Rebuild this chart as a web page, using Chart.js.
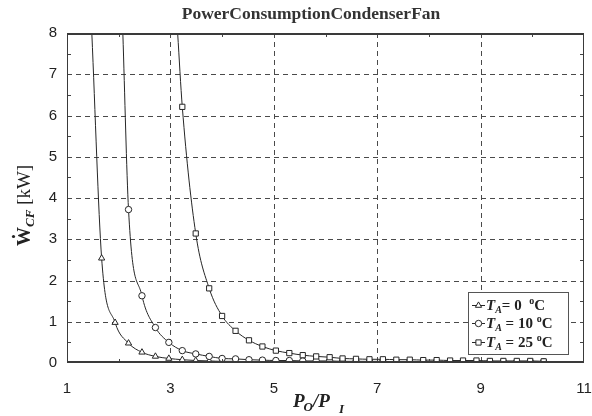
<!DOCTYPE html>
<html>
<head>
<meta charset="utf-8">
<script src="https://cdn.jsdelivr.net/npm/chart.js@4/dist/chart.umd.min.js"></script>
<style>
html,body{margin:0;padding:0;background:#fff;}
#wrap{position:relative;width:592px;height:416px;}
</style>
</head>
<body>
<div id="wrap"><canvas id="c" width="592" height="416"></canvas></div>
<script>
// ---- data ----
const chartTitle = "PowerConsumptionCondenserFan";
const xTickLabels = ["1","3","5","7","9","11"];
const yTickLabels = ["0","1","2","3","4","5","6","7","8"];

// P_O/P_I values of the markers (common grid)
const pressureRatio = [1.67,1.93,2.19,2.45,2.71,2.97,3.23,3.49,3.75,4.00,4.26,4.52,4.78,5.04,5.30,5.56,5.82,6.08,6.33,6.59,6.85,7.11,7.37,7.63,7.89,8.15,8.41,8.66,8.92,9.18,9.44,9.70,9.96,10.22];

// T_A = 0 °C  (markers start at index 0)
const power0 = [2.54,0.98,0.48,0.26,0.16,0.11,0.08,0.06,0.05,0.04,0.04,0.03,0.03,0.03,0.03,0.02,0.02,0.02,0.02,0.02,0.02,0.02,0.02,0.02,0.02,0.02,0.02,0.02,0.02,0.02,0.02,0.02,0.02,0.02];
// T_A = 10 °C (markers start at index 2)
const power10 = [3.72,1.63,0.86,0.50,0.30,0.22,0.16,0.11,0.10,0.08,0.07,0.06,0.06,0.05,0.05,0.05,0.04,0.04,0.04,0.04,0.03,0.03,0.03,0.03,0.03,0.03,0.03,0.03,0.03,0.03,0.03,0.03];
// T_A = 25 °C (markers start at index 6)
const power25 = [6.21,3.14,1.81,1.14,0.78,0.55,0.40,0.30,0.24,0.19,0.16,0.14,0.11,0.10,0.09,0.09,0.08,0.08,0.07,0.07,0.06,0.06,0.06,0.05,0.05,0.05,0.05,0.04];
const startIndex = [0, 2, 6];
// where each curve leaves the top of the plot (x at y = 8)
const topExitX = [1.48, 2.08, 3.14];
const topExitY = [8, 8, 8];

const seriesNames = ["0", "10", "25"];
const seriesMarkers = ["triangle", "circle", "rect"];

// ---- build datasets ----
function buildData(values, s) {
  const pts = [{x: topExitX[s], y: topExitY[s]}];
  values.forEach((v, i) => pts.push({x: pressureRatio[startIndex[s] + i], y: v}));
  return pts;
}
const allValues = [power0, power10, power25];
const radii = [3.6, 3.2, 3.7];
const datasets = allValues.map((vals, s) => {
  const d = buildData(vals, s);
  return {
    label: "T_A = " + seriesNames[s] + " °C",
    data: d,
    borderColor: "#262626",
    borderWidth: 1,
    backgroundColor: "#ffffff",
    pointStyle: seriesMarkers[s],
    pointRadius: d.map((p, i) => i === 0 ? 0 : radii[s]),
    pointBorderColor: "#262626",
    pointBorderWidth: 1,
    pointBackgroundColor: "#ffffff",
    cubicInterpolationMode: "monotone",
    fill: false,
    order: 3 - s
  };
});

// ---- custom drawing plugin ----
const deco = {
  id: "deco",
  beforeDatasetsDraw(chart) {
    const {ctx, chartArea: a, scales: {x, y}} = chart;
    ctx.save();
    ctx.strokeStyle = "#4a4a4a";
    ctx.lineWidth = 1;
    ctx.setLineDash([5, 4]);
    [3,5,7,9].forEach(v => {
      const px = Math.round(x.getPixelForValue(v)) + 0.5;
      ctx.beginPath(); ctx.moveTo(px, a.top); ctx.lineTo(px, a.bottom); ctx.stroke();
    });
    [1,2,3,4,5,6,7].forEach(v => {
      const py = Math.round(y.getPixelForValue(v)) + 0.5;
      ctx.beginPath(); ctx.moveTo(a.left, py); ctx.lineTo(a.right, py); ctx.stroke();
    });
    ctx.restore();
  },
  afterDatasetsDraw(chart) {
    const {ctx, chartArea: a, scales: {x, y}} = chart;
    ctx.save();
    // minor ticks
    ctx.strokeStyle = "#444";
    ctx.lineWidth = 1;
    ctx.setLineDash([]);
    [2,4,6,8,10].forEach(v => {
      const px = Math.round(x.getPixelForValue(v)) + 0.5;
      ctx.beginPath(); ctx.moveTo(px, a.top); ctx.lineTo(px, a.top + 4); ctx.stroke();
      ctx.beginPath(); ctx.moveTo(px, a.bottom); ctx.lineTo(px, a.bottom - 4); ctx.stroke();
    });
    for (let v = 0.5; v < 8; v += 1) {
      const py = Math.round(y.getPixelForValue(v)) + 0.5;
      ctx.beginPath(); ctx.moveTo(a.left, py); ctx.lineTo(a.left + 4, py); ctx.stroke();
      ctx.beginPath(); ctx.moveTo(a.right, py); ctx.lineTo(a.right - 4, py); ctx.stroke();
    }
    // frame
    ctx.strokeStyle = "#3a3a3a";
    ctx.lineWidth = 1;
    ctx.beginPath(); ctx.moveTo(a.left + 0.5, a.top); ctx.lineTo(a.left + 0.5, a.bottom); ctx.stroke();
    ctx.beginPath(); ctx.moveTo(a.right - 0.5, a.top); ctx.lineTo(a.right - 0.5, a.bottom); ctx.stroke();
    ctx.lineWidth = 2;
    ctx.beginPath(); ctx.moveTo(a.left, a.top + 1); ctx.lineTo(a.right, a.top + 1); ctx.stroke();
    ctx.beginPath(); ctx.moveTo(a.left, a.bottom - 1); ctx.lineTo(a.right, a.bottom - 1); ctx.stroke();

    // legend
    const lx = 468.5, ly = 292.5, lw = 100, lh = 62;
    ctx.fillStyle = "#fff";
    ctx.fillRect(lx, ly, lw, lh);
    ctx.strokeStyle = "#555";
    ctx.lineWidth = 1;
    ctx.strokeRect(lx, ly, lw, lh);
    const rows = [305, 323, 342];
    const eqText = ["= 0  ", " = 10 ", " = 25 "];
    chart.data.datasets.forEach((ds, s) => {
      const cy = rows[s];
      ctx.strokeStyle = "#262626";
      ctx.lineWidth = 1;
      ctx.beginPath(); ctx.moveTo(472, cy + 0.5); ctx.lineTo(485, cy + 0.5); ctx.stroke();
      ctx.fillStyle = "#ffffff";
      ctx.strokeStyle = "#262626";
      Chart.helpers.drawPoint(ctx, {pointStyle: ds.pointStyle, radius: radii[s], borderWidth: 1, rotation: 0}, 478.5, cy + 0.5);
      // text
      let tx = 486;
      const base = cy + 5;
      ctx.fillStyle = "#222";
      ctx.textBaseline = "alphabetic";
      ctx.textAlign = "left";
      ctx.font = "italic bold 15px 'Liberation Serif'";
      ctx.fillText("T", tx, base); tx += ctx.measureText("T").width;
      ctx.font = "italic bold 10px 'Liberation Serif'";
      ctx.fillText("A", tx, base + 3); tx += ctx.measureText("A").width;
      ctx.font = "bold 15px 'Liberation Serif'";
      ctx.fillText(eqText[s], tx, base);
      tx += ctx.measureText(eqText[s]).width;
      ctx.font = "bold 10px 'Liberation Serif'";
      ctx.fillText("o", tx, base - 6); tx += ctx.measureText("o").width;
      ctx.font = "bold 15px 'Liberation Serif'";
      ctx.fillText("C", tx, base);
    });
    ctx.restore();
  },
  afterDraw(chart) {
    const {ctx} = chart;
    ctx.save();
    ctx.fillStyle = "#333";
    // title
    ctx.font = "bold 17.5px 'Liberation Serif'";
    ctx.textAlign = "center";
    ctx.textBaseline = "alphabetic";
    ctx.fillText(chartTitle, 311, 19);
    // x axis title  P_O/P_I
    ctx.textAlign = "left";
    ctx.fillStyle = "#222";
    let tx = 293; const b = 407;
    ctx.font = "italic bold 19px 'Liberation Serif'";
    ctx.fillText("P", tx, b); tx += ctx.measureText("P").width;
    ctx.font = "italic bold 13px 'Liberation Serif'";
    ctx.fillText("O", tx - 1, b + 4); tx += ctx.measureText("O").width - 1;
    ctx.font = "italic bold 19px 'Liberation Serif'";
    ctx.fillText("/P", tx, b); tx += ctx.measureText("/P").width;
    ctx.font = "italic bold 13px 'Liberation Serif'";
    ctx.fillText("I", tx + 9, b + 6);
    // y axis title  Ẇ_CF [kW]
    ctx.translate(30, 246);
    ctx.rotate(-Math.PI / 2);
    let ty = 0;
    ctx.font = "bold 19px 'Liberation Serif'";
    ctx.fillText("W", ty, 0);
    const ww = ctx.measureText("W").width;
    ctx.beginPath(); ctx.arc(ww / 2, -16.5, 1.6, 0, Math.PI * 2); ctx.fill();
    ty += ww;
    ctx.font = "italic bold 13px 'Liberation Serif'";
    ctx.fillText("CF", ty, 4); ty += ctx.measureText("CF").width;
    ctx.font = "19px 'Liberation Serif'";
    ctx.fillText(" [kW]", ty, 0);
    ctx.restore();
  }
};

new Chart(document.getElementById("c"), {
  type: "line",
  data: { datasets },
  plugins: [deco],
  options: {
    responsive: false,
    animation: false,
    layout: { padding: { left: 0, top: 33, right: 0, bottom: 0 } },
    plugins: { legend: { display: false }, title: { display: false }, tooltip: { enabled: false } },
    scales: {
      x: {
        type: "linear", min: 1, max: 11,
        afterFit(s) { s.height = 53; s.paddingRight = 8; },
        grid: { display: false },
        border: { display: false },
        ticks: {
          stepSize: 2, autoSkip: false, maxRotation: 0, padding: 9,
          color: "#222",
          font: { family: "'Liberation Sans'", size: 15 },
          callback: (v) => xTickLabels.includes(String(v)) ? String(v) : ""
        }
      },
      y: {
        type: "linear", min: 0, max: 8,
        afterFit(s) { s.width = 67; },
        grid: { display: false },
        border: { display: false },
        ticks: {
          stepSize: 1, padding: 2,
          color: "#222",
          font: { family: "'Liberation Sans'", size: 15 },
          callback: (v) => yTickLabels.includes(String(v)) ? String(v) : ""
        }
      }
    }
  }
});
</script>
</body>
</html>
